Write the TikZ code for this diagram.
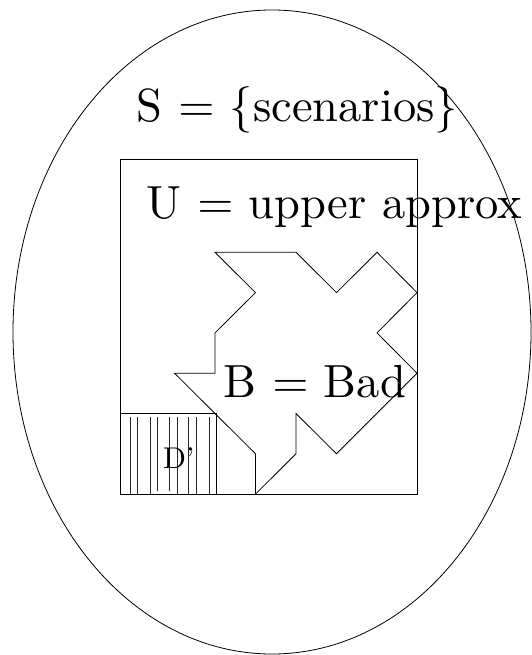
\documentclass[tikz,border=0pt]{standalone}
\begin{document}
\begin{tikzpicture}[x=1pt,y=-1pt,
  thinline/.style={line width=0.8pt, black},
  hatchline/.style={line width=0.7pt, black!85},
  biglabel/.style={inner sep=0pt, anchor=base west, scale=4.65, transform shape, font=\normalsize},
  smalllabel/.style={inner sep=0pt, anchor=base west, scale=3.0, transform shape, font=\normalsize}]
\useasboundingbox (0,0) rectangle (531,655);
% universe S
\draw[thinline] (272,332) ellipse [x radius=259, y radius=322];
% upper approximation U
\draw[thinline] (120.7,159) rectangle (417,494);
% D' box and hatching
\draw[thinline] (120.7,413.3) -- (216,413.3) -- (216,494);
\foreach \hx in {130.7,137.7,150,177.3,188.3,196.7,209.3}
  \draw[hatchline] (\hx,416.7) -- (\hx,494);
\foreach \hx in {157.7,169.3}
  \draw[hatchline] (\hx,416.7) -- (\hx,490.7);
% bad set B
\draw[thinline, line join=miter]
  (215,252.3) -- (296,252.3) -- (336.5,292.6) -- (377,252.3) -- (417,292.6)
  -- (377,332.9) -- (417,373.2) -- (336.5,453.8) -- (296,413.5) -- (296,453.8)
  -- (255.5,494.1) -- (255.5,453.8) -- (174.5,373.2) -- (215,373.2)
  -- (215,332.9) -- (255.5,292.6) -- cycle;
% labels
\node[biglabel] (slab) at (136,121.8) {S $=$ \{scenarios\}};
\node[biglabel] (ulab) at (146,218.3) {U $=$ upper approx};
\node[biglabel] (blab) at (223,397) {B $=$ Bad};
\node[smalllabel] (dlab) at (162.5,468) {D'};
\end{tikzpicture}
\end{document}
